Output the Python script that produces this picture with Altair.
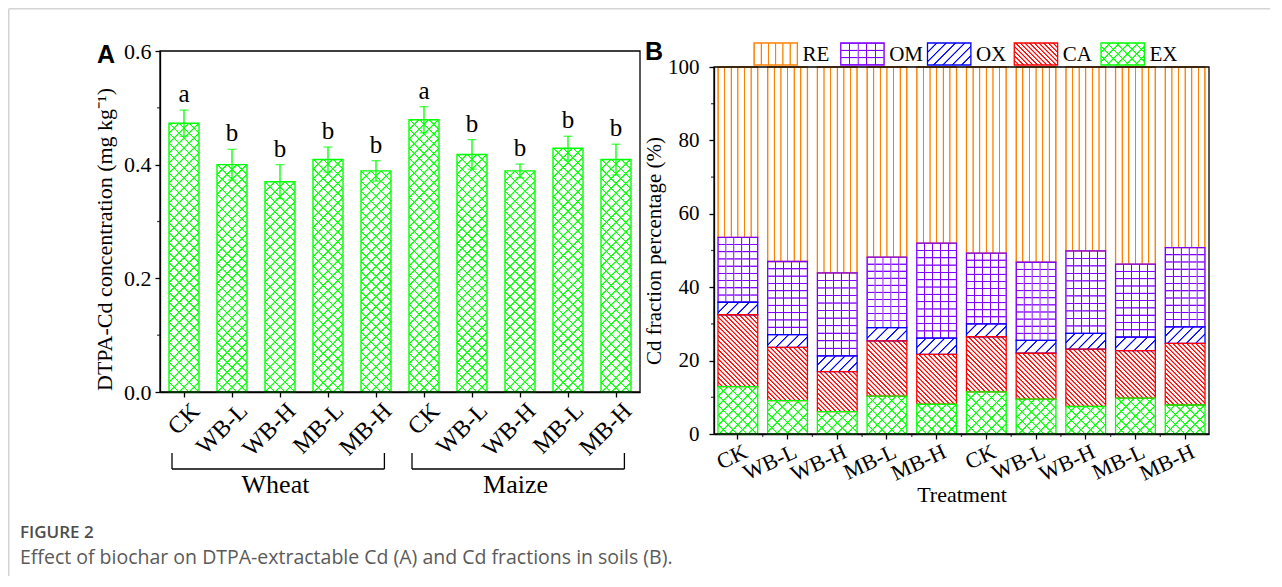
import math
import altair as alt
import pandas as pd

# ---------------- data ----------------
crops = ["Wheat", "Maize"]
treatments = ["CK", "WB-L", "WB-H", "MB-L", "MB-H"]
dtpa_mean = [0.473, 0.400, 0.370, 0.409, 0.389, 0.479, 0.418, 0.389, 0.429, 0.409]
dtpa_err = [0.023, 0.027, 0.030, 0.022, 0.018, 0.023, 0.026, 0.012, 0.021, 0.027]
dtpa_letters = ["a", "b", "b", "b", "b", "a", "b", "b", "b", "b"]

fractions = ["RE", "OM", "OX", "CA", "EX"]          # legend order (top of stack first)
frac_RE = [46.4, 53.0, 56.1, 51.8, 48.0, 50.7, 53.2, 50.1, 53.7, 49.2]
frac_OM = [17.7, 19.9, 22.6, 19.2, 25.9, 19.3, 21.3, 22.5, 19.9, 21.6]
frac_OX = [3.4, 3.5, 4.3, 3.6, 4.4, 3.5, 3.5, 4.3, 3.7, 4.5]
frac_CA = [19.6, 14.5, 10.9, 15.1, 13.6, 15.0, 12.5, 15.6, 12.9, 16.8]
frac_EX = [12.9, 9.1, 6.1, 10.3, 8.1, 11.5, 9.5, 7.5, 9.8, 7.9]

a_major = [0, 0.2, 0.4, 0.6]
a_minor = [0.1, 0.3, 0.5]
b_major = [0, 20, 40, 60, 80, 100]
b_minor = [10, 30, 50, 70, 90]

caption_head = "FIGURE 2"
caption_text = "Effect of biochar on DTPA-extractable Cd (A) and Cd fractions in soils (B)."

# ---------------- styles / layout ----------------
SERIF = "Liberation Serif"
GREEN = "#00ff00"
COLORS = {"RE": "#ff8000", "OM": "#8000ff", "OX": "#0000ff", "CA": "#ff0000", "EX": "#00ff00"}
W, H = 1049, 383
AX0, AX1, AY_TOP, AY_BOT = 0, 480, 0, 341
BX0, BX1, BY_TOP, BY_BOT = 554, 1049, 16, 383
A_PI, A_PO = 0.375, 0.1875
B_PI, B_PO = 0.2, 0.08
a_step = (AX1 - AX0) / (10 - A_PI + 2 * A_PO)
a_bw = a_step * (1 - A_PI)
b_step = (BX1 - BX0) / (10 - B_PI + 2 * B_PO)
b_bw = b_step * (1 - B_PI)
CLEAR = "rgba(255,255,255,0)"

keys = [f"{c}|{t}" for c in crops for t in treatments]
label_expr = "split(datum.label, '|')[1]"


def stripes(kind, w, h, color, bg, period, core=0.3, edge=0.9):
    """Line-hatch texture as a linear gradient (bounding-box units)."""
    if kind == "v":
        L, c = w, (0, 0, 1, 0)
    elif kind == "h":
        L, c = h, (0, 0, 0, 1)
    else:
        s = (w + h) / (w * w + h * h)
        L = (w + h) / math.sqrt(2)
        c = (0, 0, w * s, h * s) if kind == "f" else (0, 1, w * s, 1 - h * s)
    n = max(1, round(L / period))
    a, b = core / L, edge / L
    stops = []

    def add(o, col):
        o = min(max(o, 0.0), 1.0)
        if stops and o < stops[-1]["offset"]:
            o = stops[-1]["offset"]
        stops.append({"offset": round(o, 5), "color": col})

    for k in range(n + 1):
        ctr = k / n
        add(ctr - b, bg)
        add(ctr - a, color)
        add(ctr + a, color)
        add(ctr + b, bg)
    return {"gradient": "linear", "x1": round(c[0], 5), "y1": round(c[1], 5),
            "x2": round(c[2], 5), "y2": round(c[3], 5), "stops": stops}


PATTERN = {  # (base family, period), (overlay family, period)
    "RE": [("v", 6.7), None],
    "OM": [("h", 7.3), ("v", 8.0)],
    "OX": [("f", 7.0), None],
    "CA": [("b", 3.3), None],
    "EX": [("f", 7.0), ("b", 7.0)],
}


def fill_for(entries, layer):
    """entries: list of (key, series, w, h); layer 0 = base, 1 = overlay."""
    conds = []
    for k, ser, w, h in entries:
        pat = PATTERN[ser][layer]
        if pat is None:
            continue
        bg = "white" if layer == 0 else CLEAR
        conds.append({"test": f"datum.k == {k}",
                      "value": stripes(pat[0], w, h, COLORS[ser], bg, pat[1])})
    return alt.FillValue(value="white" if layer == 0 else CLEAR, condition=conds)


# ---------------- panel A ----------------
dfA = pd.DataFrame({
    "key": keys, "mean": dtpa_mean, "err": dtpa_err, "letter": dtpa_letters,
    "k": list(range(10)),
})
dfA["lo"] = dfA["mean"] - dfA["err"]
dfA["hi"] = dfA["mean"] + dfA["err"]

a_xscale = alt.Scale(domain=keys, range=[AX0, AX1], paddingInner=A_PI, paddingOuter=A_PO)
a_xaxis = alt.Axis(title=None, labelExpr=label_expr, labelAngle=315, labelAlign="right",
                   labelBaseline="middle", labelOffset=12, labelPadding=10, labelFontSize=24,
                   tickSize=5, offset=-(H - AY_BOT), labelOverlap=False)
a_yscale = alt.Scale(domain=[0, 0.6], range=[AY_BOT, AY_TOP], nice=False)
a_yaxis = alt.Axis(title="DTPA-Cd concentration (mg kg\u207b\u00b9)", values=a_major,
                   format=".1f", labelFontSize=22, titleFontSize=22, tickSize=5,
                   labelPadding=4, titlePadding=7, titleY=188, orient="left")


def ax(field, **kw):
    return alt.X(field, type="nominal", sort=keys, scale=a_xscale, axis=a_xaxis, **kw)


def ay(field):
    return alt.Y(field, type="quantitative", scale=a_yscale, axis=a_yaxis)


a_h = [m / 0.6 * (AY_BOT - AY_TOP) for m in dtpa_mean]
a_entries = [(i, "EX", a_bw, a_h[i]) for i in range(10)]
a_base = alt.Chart(dfA).mark_bar(strokeWidth=0).encode(
    x=ax("key"), y=ay("mean"), fill=fill_for(a_entries, 0))
a_over = alt.Chart(dfA).mark_bar(stroke=GREEN, strokeWidth=1.4).encode(
    x=ax("key"), y=ay("mean"), fill=fill_for(a_entries, 1))
a_err = alt.Chart(dfA).mark_rule(color=GREEN, strokeWidth=1.3).encode(
    x=ax("key"), y=ay("lo"), y2="hi")
a_cap_hi = alt.Chart(dfA).mark_tick(color=GREEN, orient="horizontal", size=9, thickness=1.3).encode(
    x=ax("key"), y=ay("hi"))
a_cap_lo = alt.Chart(dfA).mark_tick(color=GREEN, orient="horizontal", size=9, thickness=1.3).encode(
    x=ax("key"), y=ay("lo"))
a_txt = alt.Chart(dfA).mark_text(font=SERIF, fontSize=25, baseline="bottom", dy=-3, color="black").encode(
    x=ax("key"), y=ay("hi"), text="letter")
a_min = alt.Chart(pd.DataFrame({"m": a_minor})).mark_tick(
    color="black", orient="horizontal", size=3, thickness=1.3).encode(
    x=alt.value(AX0 - 1.5), y=ay("m"))

dfBr = pd.DataFrame({
    "first": [keys[0], keys[5]], "last": [keys[4], keys[9]],
    "mid": [keys[2], keys[7]], "name": crops,
})
br_h = alt.Chart(dfBr).mark_rule(color="black", strokeWidth=1.3).encode(
    x=ax("first", bandPosition=0.1), x2=alt.X2("last", bandPosition=0.78), y=alt.value(418))
br_l = alt.Chart(dfBr).mark_rule(color="black", strokeWidth=1.3).encode(
    x=ax("first", bandPosition=0.1), y=alt.value(402), y2=alt.value(418))
br_r = alt.Chart(dfBr).mark_rule(color="black", strokeWidth=1.3).encode(
    x=ax("last", bandPosition=0.78), y=alt.value(402), y2=alt.value(418))
br_t = alt.Chart(dfBr).mark_text(font=SERIF, fontSize=26, baseline="alphabetic", color="black").encode(
    x=ax("mid", bandPosition=0.35), y=alt.value(442), text="name")

panelA = alt.layer(a_base, a_over, a_err, a_cap_hi, a_cap_lo, a_txt, a_min, br_h, br_l, br_r, br_t)

# ---------------- panel B ----------------
series_vals = {"RE": frac_RE, "OM": frac_OM, "OX": frac_OX, "CA": frac_CA, "EX": frac_EX}
stack_order = {"EX": 0, "CA": 1, "OX": 2, "OM": 3, "RE": 4}
rows, b_entries = [], []
kk = 0
for i, key in enumerate(keys):
    for ser in fractions:
        v = series_vals[ser][i]
        rows.append({"key": key, "series": ser, "v": v, "ord": stack_order[ser], "k": kk})
        b_entries.append((kk, ser, b_bw, v / 100 * (BY_BOT - BY_TOP)))
        kk += 1
dfB = pd.DataFrame(rows)

b_xscale = alt.Scale(domain=keys, range=[BX0, BX1], paddingInner=B_PI, paddingOuter=B_PO)
b_xaxis = alt.Axis(title="Treatment", labelExpr=label_expr, labelAngle=335, labelAlign="right",
                   labelBaseline="middle", labelOffset=8, labelPadding=11, labelFontSize=22,
                   titleFontSize=22, titlePadding=0, tickSize=5, labelOverlap=False, orient="bottom")
b_yscale = alt.Scale(domain=[0, 100], range=[BY_BOT, BY_TOP], nice=False)
b_yaxis = alt.Axis(title="Cd fraction percentage (%)", values=b_major,
                   labelFontSize=21, titleFontSize=21, tickSize=5, labelPadding=10,
                   titlePadding=3, orient="left", offset=-BX0)
b_stroke = alt.Stroke("series:N", scale=alt.Scale(domain=fractions, range=[COLORS[s] for s in fractions]),
                      legend=None)


def bx(field="key", **kw):
    return alt.X(field, type="nominal", sort=keys, scale=b_xscale, axis=b_xaxis, **kw)


def by(field, stack="zero"):
    return alt.Y(field, type="quantitative", stack=stack, scale=b_yscale, axis=b_yaxis)


def benc(layer):
    return dict(x=bx(), y=by("v"), order=alt.Order("ord:Q"), fill=fill_for(b_entries, layer))


b_base = alt.Chart(dfB).mark_bar(strokeWidth=0).encode(**benc(0))
b_over = alt.Chart(dfB).mark_bar(strokeWidth=1.3).encode(stroke=b_stroke, **benc(1))
b_min_y = alt.Chart(pd.DataFrame({"m": b_minor})).mark_tick(
    color="black", orient="horizontal", size=3, thickness=1.3).encode(
    x=alt.value(BX0 - 1.5), y=by("m", stack=None))
b_min_x = alt.Chart(pd.DataFrame({"key": keys[:-1]})).mark_tick(
    color="black", orient="vertical", size=3, thickness=1.3, xOffset=b_step * B_PI / 2).encode(
    x=bx("key", bandPosition=1), y=alt.value(BY_BOT + 1.5))
panelB = alt.layer(b_base, b_over, b_min_y, b_min_x)

# ---------------- legend (panel B) ----------------
dfL = pd.DataFrame({"series": fractions, "i": list(range(5))})
dfL["i2"] = dfL["i"] + 0.5
dfL["k"] = dfL["i"]
l_entries = [(i, s, 43.4, 22) for i, s in enumerate(fractions)]
l_x = alt.X("i:Q", scale=alt.Scale(domain=[0, 4], range=[594, 941]), axis=None)
leg_base = alt.Chart(dfL).mark_rect(strokeWidth=0).encode(
    x=l_x, x2="i2", y=alt.value(-8), y2=alt.value(14), fill=fill_for(l_entries, 0))
leg_over = alt.Chart(dfL).mark_rect(strokeWidth=1.3).encode(
    x=l_x, x2="i2", y=alt.value(-8), y2=alt.value(14), fill=fill_for(l_entries, 1), stroke=b_stroke)
leg_txt = alt.Chart(dfL).mark_text(font=SERIF, fontSize=21, align="left", baseline="middle",
                                   dx=5, color="black").encode(
    x=alt.X("i2:Q", scale=alt.Scale(domain=[0, 4], range=[594, 941]), axis=None),
    y=alt.value(4), text="series")
legend = alt.layer(leg_base, leg_over, leg_txt)

# ---------------- decorations ----------------
one = pd.DataFrame({"d": [0]})
FR = "#d4d4d4"
frame_top = alt.Chart(one).mark_rule(color=FR, strokeWidth=1.5).encode(
    x=alt.value(-151.25), x2=alt.value(1110), y=alt.value(-42.25))
frame_left = alt.Chart(one).mark_rule(color=FR, strokeWidth=1.5).encode(
    x=alt.value(-151.25), y=alt.value(-42.25), y2=alt.value(525))
boxA = alt.Chart(one).mark_rect(fill="transparent", stroke="black", strokeWidth=1.3).encode(
    x=alt.value(AX0), x2=alt.value(AX1), y=alt.value(AY_TOP), y2=alt.value(AY_BOT))
boxB = alt.Chart(one).mark_rect(fill="transparent", stroke="black", strokeWidth=1.3).encode(
    x=alt.value(BX0), x2=alt.value(BX1), y=alt.value(BY_TOP), y2=alt.value(BY_BOT))
labA = alt.Chart(one).mark_text(font="Liberation Sans", fontWeight="bold", fontSize=25,
                                align="left", baseline="alphabetic", color="black").encode(
    x=alt.value(-63), y=alt.value(12), text=alt.value("A"))
labB = alt.Chart(one).mark_text(font="Liberation Sans", fontWeight="bold", fontSize=25,
                                align="left", baseline="alphabetic", color="black").encode(
    x=alt.value(485), y=alt.value(9), text=alt.value("B"))
cap1 = alt.Chart(one).mark_text(font="Open Sans", fontSize=17, fontWeight=600, align="left",
                                baseline="alphabetic", color="#4d4d4d").encode(
    x=alt.value(-140), y=alt.value(487), text=alt.value(caption_head))
cap2 = alt.Chart(one).mark_text(font="Open Sans", fontSize=19.5, align="left", baseline="alphabetic",
                                color="#5a5a5a").encode(
    x=alt.value(-140), y=alt.value(513), text=alt.value(caption_text))
deco = alt.layer(frame_top, frame_left, boxA, boxB, labA, labB, cap1, cap2)

chart = alt.layer(panelA, panelB, legend, deco).resolve_scale(
    x="independent", y="independent"
).properties(width=W, height=H, padding=0).configure_view(stroke=None).configure_axis(
    labelFont=SERIF, titleFont=SERIF, labelColor="black", titleColor="black",
    domainColor="black", tickColor="black", grid=False, titleFontWeight="normal",
    domainWidth=1.3, tickWidth=1.3,
)

chart.save("out.html", embed_options={"renderer": "svg", "actions": False})
